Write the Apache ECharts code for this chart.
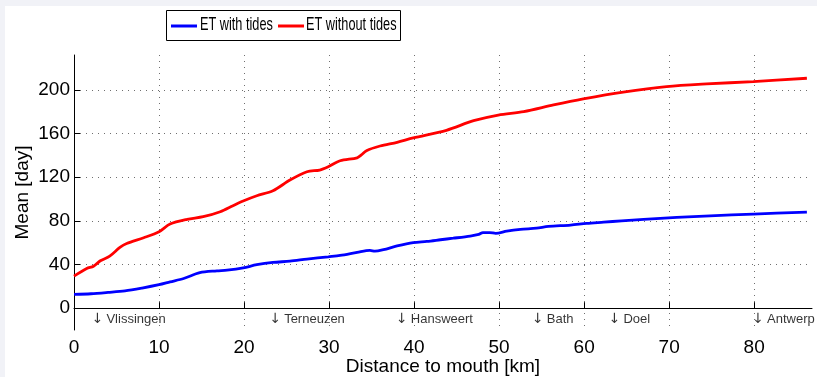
<!DOCTYPE html>
<html>
<head>
<meta charset="utf-8">
<script src="https://cdn.jsdelivr.net/npm/echarts@6/dist/echarts.min.js"></script>
<style>
  html, body { margin: 0; padding: 0; background: #f1f2f7; overflow: hidden; }
  #chart { position: absolute; left: 5px; top: 6px; width: 812px; height: 371px; background: #ffffff; }
</style>
</head>
<body>
<div id="chart"></div>
<script>
// Mean exposure time along the estuary, with and without tides
const distWithTides = [0, 2, 4, 6, 8, 10, 11.3, 12.9, 14.8, 16.8, 18, 19.9, 21.5, 23.4, 25.4, 27.4, 29.9, 31.3, 33.3, 34.8, 35.4, 36.4, 38, 39.9, 41.5, 43.1, 44.6, 46.6, 47.6, 48.1, 48.9, 49.6, 50.9, 52.5, 54.4, 55.8, 58.4, 60.3, 62.3, 64.4, 67, 70.9, 74.8, 79.9, 86.2];
const meanWithTides = [12.6, 13.2, 14.4, 15.8, 18.4, 21.5, 24.1, 27.2, 32.5, 34.2, 34.9, 37, 39.8, 41.9, 43.1, 45, 47.1, 48.3, 51.1, 53, 52.2, 53.6, 57, 60.1, 61.2, 62.7, 64.1, 66.1, 67.6, 69.3, 69.3, 68.6, 70.6, 72.2, 73.3, 74.9, 76.1, 77.7, 78.8, 80.0, 81.3, 83.2, 84.6, 86.2, 88.1];

const distWithoutTides = [0, 1.5, 2.3, 3.1, 4.2, 5.4, 6.2, 8.2, 10, 11.3, 13.3, 15.2, 17.2, 18.7, 19.9, 21.5, 23.4, 25.4, 27.4, 28.9, 29.9, 31.3, 33.3, 33.8, 34.4, 36.0, 38.0, 39.9, 43.8, 47.0, 49.9, 52.9, 56.4, 59.9, 64.6, 69.7, 74.4, 79.9, 86.2];
const meanWithoutTides = [29.4, 36.4, 38.5, 43.4, 47.7, 55.7, 59.3, 64.5, 70, 77.1, 81.4, 83.8, 88.4, 93.9, 98.2, 103, 107.6, 117.4, 125, 126.6, 129.6, 135.1, 137.8, 140.4, 144.3, 148.6, 152, 156, 163, 171.8, 177, 180.1, 186.2, 191.7, 197.9, 203, 205.5, 207.6, 210.7];

// Stations along the river
const stationNames = ['Vlissingen', 'Terneuzen', 'Hansweert', 'Bath', 'Doel', 'Antwerp'];
const stationKm = [2.2, 23.1, 38.0, 54.0, 63.0, 79.9];
const stationLabelLevel = -10;

const xTicks = [0, 10, 20, 30, 40, 50, 60, 70, 80];
const yTicks = [0, 40, 80, 120, 160, 200];

const seriesNames = ['ET with tides', 'ET without tides'];
const seriesColors = ['#0000ff', '#ff0000'];

const font = 'Liberation Sans, Arial, Helvetica, sans-serif';
const pairs = (xs, ys) => xs.map((x, i) => [x, ys[i]]);

// Boxed legend with condensed labels
const legendBox = { x: 161, y: 4, w: 234, h: 30 };
const legendLineX = [166, 273];
const legendTextX = [195, 301];
const legendGraphics = [
  { type: 'rect', shape: { x: legendBox.x + 0.5, y: legendBox.y + 0.5, width: legendBox.w, height: legendBox.h },
    style: { fill: '#ffffff', stroke: '#000000', lineWidth: 1 }, z: 10 }
];
seriesNames.forEach((name, i) => {
  legendGraphics.push({ type: 'line', shape: { x1: legendLineX[i], y1: 20, x2: legendLineX[i] + 26, y2: 20 },
    style: { stroke: seriesColors[i], lineWidth: 3 }, z: 11 });
  legendGraphics.push({ type: 'text', x: legendTextX[i], y: 19, scaleX: 0.67, z: 11,
    style: { text: name, font: '19px ' + font, fill: '#000', textVerticalAlign: 'middle', verticalAlign: 'middle' } });
});

const chart = echarts.init(document.getElementById('chart'));
chart.setOption({
  animation: false,
  backgroundColor: '#ffffff',
  grid: { left: 69, top: 49, right: 5, bottom: 47, containLabel: false, outerBoundsMode: 'none' },
  graphic: legendGraphics,
  xAxis: {
    type: 'value', min: 0, max: 86.8,
    name: 'Distance to mouth [km]', nameLocation: 'middle', nameGap: 27, nameMoveOverlap: false,
    nameTextStyle: { fontFamily: font, fontSize: 19, color: '#000' },
    axisLine: { show: true, lineStyle: { color: '#000', width: 1 } },
    axisTick: { show: true, inside: true, length: 6, customValues: xTicks, lineStyle: { color: '#000' } },
    axisLabel: { customValues: xTicks, fontFamily: font, fontSize: 19, color: '#000', margin: 8 },
    splitLine: { show: true, lineStyle: { color: '#6f6f6f', width: 1, type: [1, 5] } }
  },
  yAxis: {
    type: 'value', min: -20, max: 232,
    name: 'Mean [day]', nameLocation: 'middle', nameGap: 42, nameRotate: 90, nameMoveOverlap: false,
    nameTextStyle: { fontFamily: font, fontSize: 19, color: '#000' },
    axisLine: { show: true, lineStyle: { color: '#000', width: 1 } },
    axisTick: { show: true, inside: true, length: 6, customValues: yTicks, lineStyle: { color: '#000' } },
    axisLabel: { customValues: yTicks, fontFamily: font, fontSize: 19, color: '#000', margin: 4 },
    splitLine: { show: true, lineStyle: { color: '#6f6f6f', width: 1, type: [1, 5] } }
  },
  series: [
    {
      name: seriesNames[0], type: 'line', data: pairs(distWithTides, meanWithTides),
      showSymbol: false, smooth: 0.3, lineStyle: { color: seriesColors[0], width: 2.8 }, itemStyle: { color: seriesColors[0] }
    },
    {
      name: seriesNames[1], type: 'line', data: pairs(distWithoutTides, meanWithoutTides),
      showSymbol: false, smooth: 0.3, lineStyle: { color: seriesColors[1], width: 2.8 }, itemStyle: { color: seriesColors[1] }
    },
    {
      name: 'stations', type: 'scatter', silent: true, symbolSize: 0,
      data: stationKm.map((km, i) => ({ name: stationNames[i], value: [km, stationLabelLevel] })),
      label: {
        show: true, position: 'inside', align: 'left', verticalAlign: 'middle',
        formatter: p => '{arr|\u2193}' + p.name,
        fontFamily: font, fontSize: 13, color: '#000',
        rich: { arr: { fontFamily: 'DejaVu Sans', fontSize: 14, color: '#000', padding: [0, 3, 0, -1] } }
      }
    }
  ]
});
</script>
</body>
</html>
